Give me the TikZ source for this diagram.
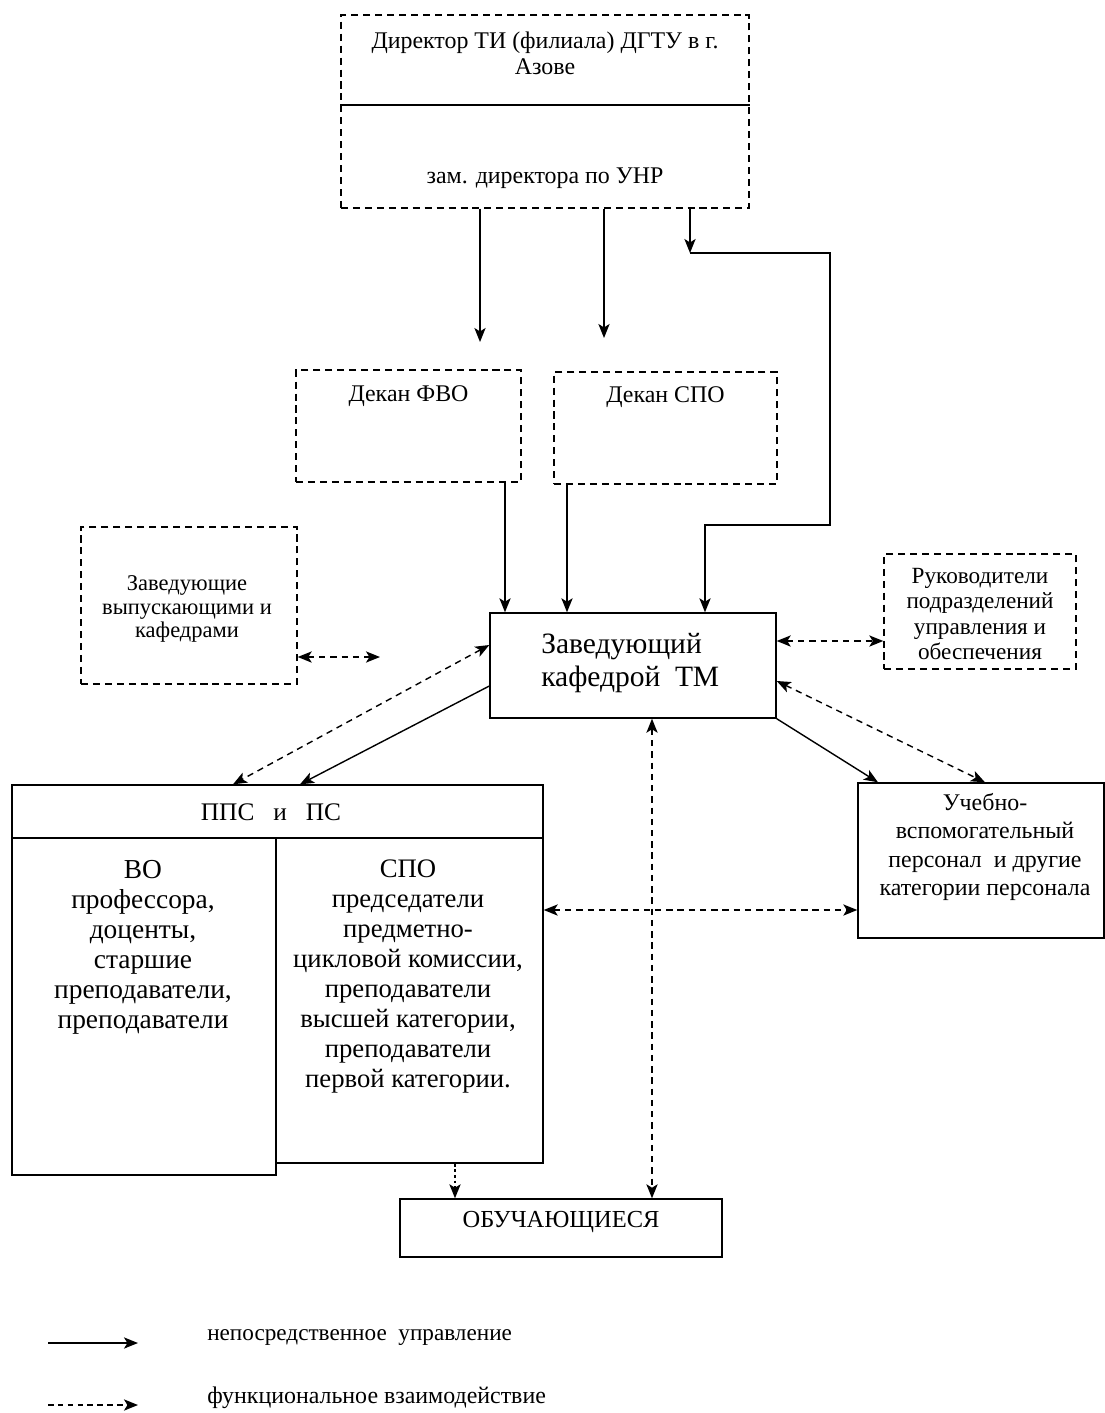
\documentclass[tikz,border=0pt]{standalone}
\usepackage{fontspec}
\setmainfont{Liberation Serif}
\usetikzlibrary{arrows.meta}
\tikzset{
  box/.style={shape=rectangle, draw, line width=1pt, inner sep=0},
  dbox/.style={box, dash pattern={on 5pt off 3.5pt}},
  txt/.style={anchor=center, align=center, inner sep=0},
  link/.style={line width=1pt, ->},
  flink/.style={line width=1pt, dash pattern={on 4.5pt off 3.5pt}, <->},
}
\begin{document}
\begin{tikzpicture}[>={Stealth[length=10pt,width=8pt,inset=2.5pt]}]
          \useasboundingbox (0,0) rectangle (27.625,-35.325);
          % Boxes and texts:
          \node[dbox, minimum width=10.2cm, minimum height=4.825cm] (dir) at (13.625,-2.7875){};
          \node[txt, font=\fontsize{17}{18.5}\selectfont] (dirtext) at (13.625,-1.325){Директор ТИ (филиала) ДГТУ в г.\\Азове};
          \node[txt, font=\fontsize{17}{18.5}\selectfont] (zamtext) at (13.625,-4.45){зам. директора по УНР};
          \draw[line width=1pt] (dir.west |- 0,-2.625) -- (dir.east |- 0,-2.625);
          \node[dbox, minimum width=5.625cm, minimum height=2.8cm] (fvo) at (10.2125,-10.65){};
          \node[txt, font=\fontsize{17}{18.5}\selectfont] (fvotext) at (10.2125,-9.9){Декан ФВО};
          \node[dbox, minimum width=5.575cm, minimum height=2.8cm] (spo) at (16.6375,-10.7){};
          \node[txt, font=\fontsize{17}{18.5}\selectfont] (spotext) at (16.6375,-9.925){Декан СПО};
          \node[box, minimum width=7.15cm, minimum height=2.625cm] (tm) at (15.825,-16.6375){};
          \node[txt, anchor=west, align=left, font=\fontsize{21}{23.5}\selectfont] (tmtext) at (13.525,-16.5875){Заведующий\\кафедрой~~ТМ};
          \node[dbox, minimum width=5.4cm, minimum height=3.925cm] (zav) at (4.725,-15.1375){};
          \node[txt, font=\fontsize{16}{17}\selectfont] (zavtext) at (4.675,-15.225){Заведующие\\выпускающими и\\кафедрами};
          \node[dbox, minimum width=4.8cm, minimum height=2.875cm] (ruk) at (24.5,-15.2875){};
          \node[txt, font=\fontsize{16.5}{17.8}\selectfont] (ruktext) at (24.5,-15.35){Руководители\\подразделений\\управления и\\обеспечения};
          \node[box, minimum width=13.275cm, minimum height=1.325cm] (pps) at (6.9375,-20.2875){};
          \node[txt, font=\fontsize{18}{21}\selectfont] (ppstext) at (6.775,-20.3){ППС~~ и~~ ПС};
          \node[box, minimum width=6.6cm, minimum height=8.425cm] (vo) at (3.6,-25.1625){};
          \node[txt, anchor=north, font=\fontsize{19.5}{21.3}\selectfont] (votext) at (3.575,-21.5){ВО\\профессора,\\доценты,\\старшие\\преподаватели,\\преподаватели};
          \node[box, minimum width=6.675cm, minimum height=8.125cm] (spocol) at (10.2375,-25.0125){};
          \node[txt, anchor=north, font=\fontsize{19}{21.3}\selectfont] (spocoltext) at (10.2,-21.5){СПО\\председатели\\предметно-\\цикловой комиссии,\\преподаватели\\высшей категории,\\преподаватели\\первой категории.};
          \node[box, minimum width=6.15cm, minimum height=3.875cm] (uvp) at (24.525,-21.5125){};
          \node[txt, font=\fontsize{17}{20.3}\selectfont] (uvptext) at (24.625,-21.175){Учебно-\\вспомогательный\\персонал~ и другие\\категории персонала};
          \node[box, minimum width=8.05cm, minimum height=1.45cm] (obuch) at (14.025,-30.7){};
          \node[txt, font=\fontsize{17.4}{20}\selectfont] (obuchtext) at (14.025,-30.55){ОБУЧАЮЩИЕСЯ};
          % Connectors:
          \coordinate (fvoin) at (12,-8.55);
          \coordinate (spoin) at (15.1,-8.45);
          \coordinate (bend) at (17.25,-6.325);
          \draw[link] (dir.south -| fvoin) -- (fvoin);
          \draw[link] (dir.south -| spoin) -- (spoin);
          \draw[link] (dir.south -| bend) -- (bend);
          \draw[link] (bend) -| (20.75,-13.125) -| (tm.north -| 17.625,0);
          \draw[link] (fvo.south -| 12.625,0) -- (tm.north -| 12.625,0);
          \draw[link] (spo.south -| 14.175,0) -- (tm.north -| 14.175,0);
          \coordinate (zavend) at (9.5,-16.425);
          \draw[flink] (zav.east |- zavend) -- (zavend);
          \draw[flink] (tm.east |- 0,-16.025) -- (ruk.west |- 0,-16.025);
          \draw[flink] (tm.west |- 0,-16.125) -- (pps.north -| 5.825,0);
          \draw[link] (tm.west |- 0,-17.15) -- (pps.north -| 7.5,0);
          \draw[link] (tm.south east) -- (uvp.north -| 21.95,0);
          \draw[flink] (tm.east |- 0,-17.025) -- (uvp.north -| 24.625,0);
          \draw[flink] (tm.south -| 16.3,0) -- (obuch.north -| 16.3,0);
          \draw[flink] (spocol.east |- 0,-22.75) -- (uvp.west |- 0,-22.75);
          \draw[link, dash pattern={on 2pt off 2pt}] (spocol.south -| 11.375,0) -- (obuch.north -| 11.375,0);
          % Legend:
          \coordinate (lega) at (1.2,-33.575);
          \coordinate (legb) at (3.45,-33.575);
          \coordinate (legc) at (1.2,-35.125);
          \coordinate (legd) at (3.45,-35.125);
          \draw[link] (lega) -- (legb);
          \draw[link, dash pattern={on 4pt off 3pt}] (legc) -- (legd);
          \node[txt, anchor=west, font=\fontsize{16.5}{18}\selectfont] (legtext1) at (5.175,-33.45){непосредственное~ управление};
          \node[txt, anchor=west, font=\fontsize{17}{18}\selectfont] (legtext2) at (5.175,-34.95){функциональное взаимодействие};
        \end{tikzpicture}
\end{document}
